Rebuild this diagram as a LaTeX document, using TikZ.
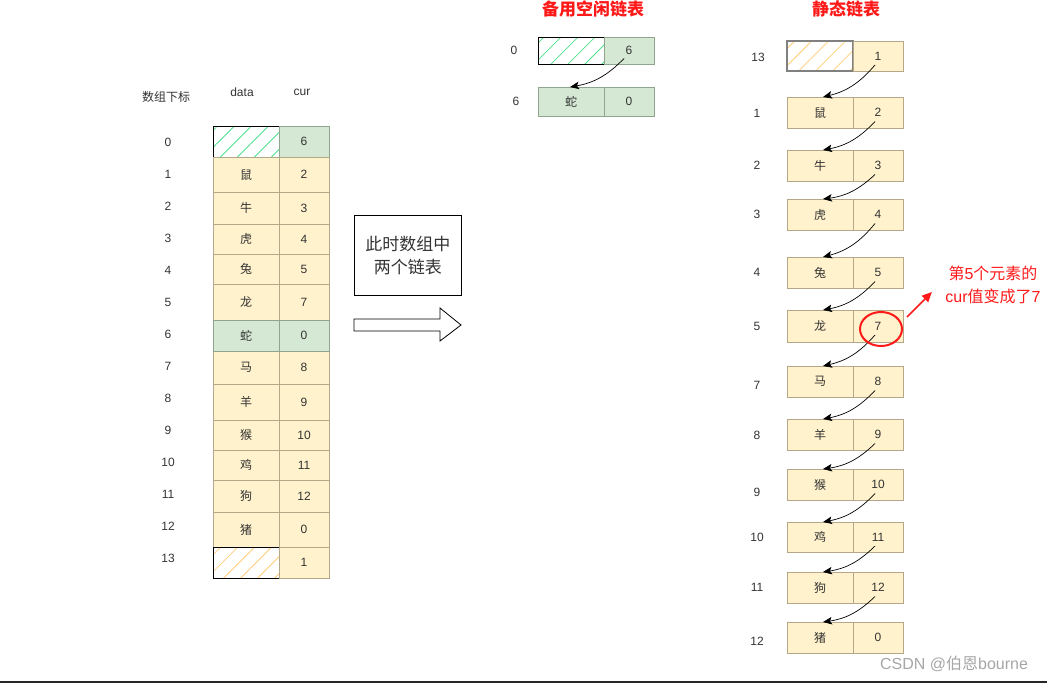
\documentclass[tikz,border=0pt]{standalone}
\usepackage{fontspec}
\setmainfont{Liberation Sans}
\newfontfamily\cjk{Noto Sans CJK SC}
\usetikzlibrary{arrows.meta,positioning,calc,patterns.meta,shapes.geometric}
\definecolor{yfill}{HTML}{FFF2CC}
\definecolor{yline}{HTML}{B5A888}
\definecolor{gfill}{HTML}{D5E8D4}
\definecolor{gline}{HTML}{8FA58D}
\definecolor{hgreen}{HTML}{4CE08A}
\definecolor{horange}{HTML}{FFCC77}
\definecolor{note}{HTML}{FF1A1A}
\definecolor{ink}{HTML}{333333}
\begin{document}
\begin{tikzpicture}[x=1pt,y=-1pt,font=\fontsize{12}{14}\selectfont,text=ink,
 cell/.style={draw=yline,fill=yfill,line width=.8pt,anchor=north west,inner sep=0pt,outer sep=0pt},
 gcell/.style={cell,draw=gline,fill=gfill},
 hatch/.style={anchor=north west,inner sep=0pt,outer sep=0pt,draw=black,line width=.8pt,
  pattern={Lines[angle=45,distance=12pt,line width=.8pt]},pattern color=#1},
 dcol/.style={minimum width=66pt},
 ccol/.style={minimum width=50pt},
 lbl/.style={text=ink},
 title/.style={font=\cjk\bfseries\fontsize{17}{20}\selectfont,text=note},
 link/.style={-{Stealth[length=9pt,width=7.5pt,inset=2pt]},line width=.7pt,black,bend left=18}]
\useasboundingbox (0,0) rectangle (1047,683);
% array
\node[lbl] (hidx) at (166,97) {\cjk 数组下标};
\node[lbl] (hdat) at (242,92) {data};
\node[lbl] (hcur) at (302,92) {cur};
\foreach \i in {0,...,13}
 \node[lbl] (I\i) at (168,{142+32*\i}) {\i};
\node[hatch=hgreen,dcol,minimum height=31pt] (L0d) at (213,126) {};
\node[gcell,ccol,minimum height=31pt] (L0c) at (279,126) {6};
\foreach \i/\dat/\cu/\tp/\bt in {1/鼠/2/157/192,2/牛/3/192/224,3/虎/4/224/254,4/兔/5/254/284,5/龙/7/284/320,
 7/马/8/351/384,8/羊/9/384/420,9/猴/10/420/450,10/鸡/11/450/480,11/狗/12/480/512,12/猪/0/512/547}{
 \pgfmathsetmacro{\hgt}{\bt-\tp}
 \node[cell,dcol,minimum height=\hgt pt] (L\i d) at (213,\tp) {\cjk\dat};
 \node[cell,ccol,minimum height=\hgt pt] (L\i c) at (279,\tp) {\cu};
}
\node[gcell,dcol,minimum height=31pt] (L6d) at (213,320) {\cjk 蛇};
\node[gcell,ccol,minimum height=31pt] (L6c) at (279,320) {0};
\node[hatch=horange,dcol,minimum height=31pt] (L13d) at (213,547) {};
\node[cell,ccol,minimum height=31pt] (L13c) at (279,547) {1};
% middle
\node[draw=black,line width=.8pt,anchor=north west,minimum width=107pt,minimum height=80pt,align=center,
 font=\cjk\fontsize{17}{23}\selectfont] (say) at (354,215) {此时数组中\\两个链表};
\draw[line width=.8pt,fill=white] (354,319) -- (440,319) -- (440,308) -- (461,325) -- (440,341)
 -- (440,331) -- (354,331) -- cycle;
% spare list
\node[title] (tspare) at (593,9) {备用空闲链表};
\node[lbl] (ML0) at (514,50) {0};
\node[lbl] (ML6) at (516,101) {6};
\node[hatch=hgreen,dcol,minimum height=27pt] (M0d) at (538,37) {};
\node[gcell,ccol,minimum height=27pt] (M0c) at (604,37) {6};
\node[gcell,dcol,minimum height=29pt] (M6d) at (538,87) {\cjk 蛇};
\node[gcell,ccol,minimum height=29pt] (M6c) at (604,87) {0};
\draw[link] ([xshift=-5pt,yshift=-8pt]M0c.center) to ([xshift=-1pt]M6d.north);
% static list
\node[title] (tstatic) at (846,9) {静态链表};
\node[lbl] (RL0) at (758,57) {13};
\node[hatch=horange,draw=gray,line width=1.3pt,dcol,minimum height=30pt] (R0d) at (787,41) {};
\node[cell,ccol,minimum height=30pt] (R0c) at (853,41) {1};
\foreach \k/\n/\dat/\cu/\tp/\bt/\ly in {1/1/鼠/2/97/128/113,2/2/牛/3/150/181/165,3/3/虎/4/199/230/214,
 4/4/兔/5/257/288/272,5/5/龙/7/310/342/326,6/7/马/8/366/397/385,7/8/羊/9/419/450/435,
 8/9/猴/10/469/500/492,9/10/鸡/11/522/552/537,10/11/狗/12/572/603/587,11/12/猪/0/622/653/641}{
 \pgfmathsetmacro{\hgt}{\bt-\tp}
 \node[lbl] (RL\k) at (757,\ly) {\n};
 \node[cell,dcol,minimum height=\hgt pt] (R\k d) at (787,\tp) {\cjk\dat};
 \node[cell,ccol,minimum height=\hgt pt] (R\k c) at (853,\tp) {\cu};
}
\foreach \a [count=\b] in {0,...,10}
 \draw[link] ([xshift=-3pt,yshift=-9pt]R\a c.center) to ([xshift=3pt]R\b d.north);
% note
\node[ellipse,draw=note,line width=2pt,minimum width=42pt,minimum height=34pt,inner sep=0pt]
 (ring) at ([xshift=3pt,yshift=-3pt]R5c.center) {};
\node[align=center,text=note,font=\fontsize{16}{23}\selectfont] (msg) at (993,285)
 {{\cjk 第}5{\cjk 个元素的}\\cur{\cjk 值变成了}7};
\draw[note,line width=1.5pt,-{Triangle[length=10pt,width=9pt]}] ([xshift=4pt,yshift=12pt]ring.east)
 -- ([xshift=-10pt,yshift=-7pt]msg.west);
\node[text=black!35,font=\fontsize{16}{18}\selectfont] (mark) at (954,664) {CSDN @{\cjk 伯恩}bourne};
\draw[line width=2pt,black!85] (0,682) -- (1047,682);
\end{tikzpicture}
\end{document}
